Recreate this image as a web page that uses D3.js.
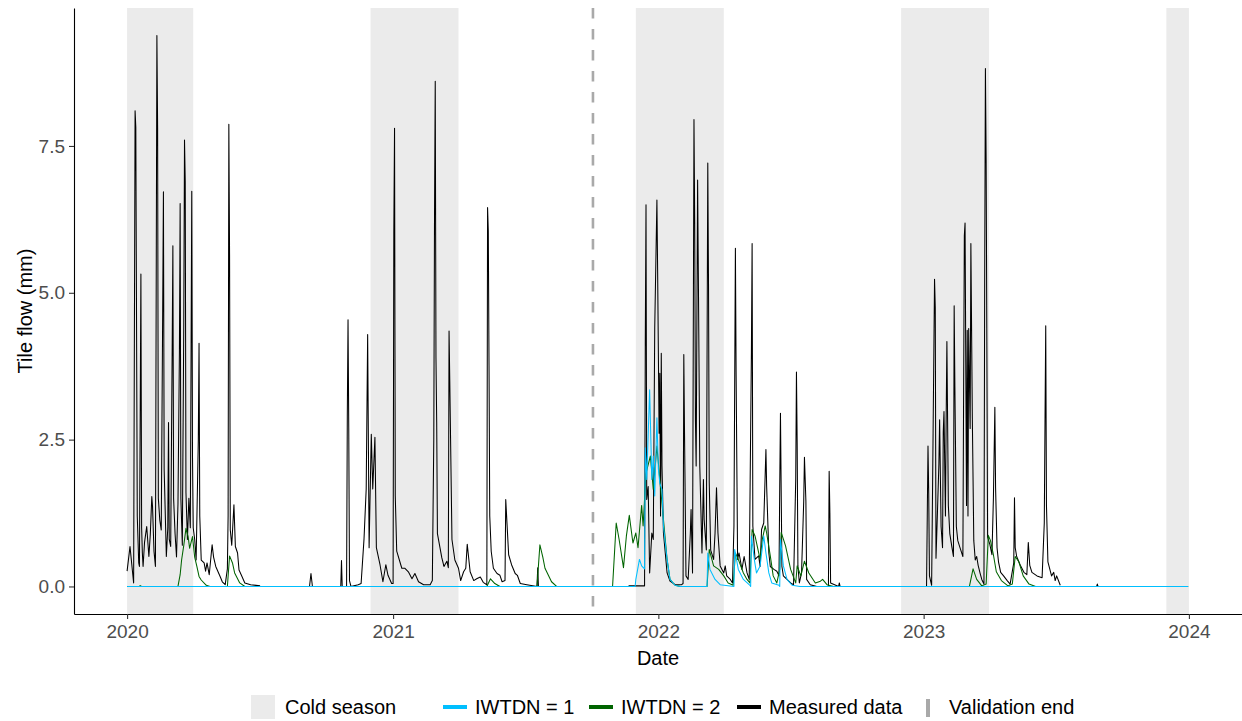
<!DOCTYPE html>
<html>
<head>
<meta charset="utf-8">
<script src="https://cdn.jsdelivr.net/npm/d3@7"></script>
<style>
  body { margin: 0; background: #fff; }
  text { font-family: "Liberation Sans", Arial, sans-serif; }
</style>
</head>
<body>
<svg id="chart" width="1242" height="721"></svg>
<script>
// Daily tile flow (mm): [date, value]; null marks a break in the record
const measuredFlow = [
  ["2020-01-01",0.26],["2020-01-05",0.68],["2020-01-10",0.06],["2020-01-12",8.1],["2020-01-13",7.82],
  ["2020-01-15",1.2],["2020-01-17",0.4],["2020-01-18",0.34],["2020-01-20",5.32],["2020-01-21",1.0],
  ["2020-01-22",0.57],["2020-01-23",0.34],["2020-01-25",0.75],["2020-01-28",1.02],["2020-01-31",0.51],
  ["2020-02-02",0.9],["2020-02-04",1.53],["2020-02-05",1.36],["2020-02-07",0.6],["2020-02-09",0.34],
  ["2020-02-11",9.38],["2020-02-12",7.82],["2020-02-13",1.5],["2020-02-15",1.13],["2020-02-17",0.96],
  ["2020-02-19",4.74],["2020-02-20",6.72],["2020-02-21",2.0],["2020-02-24",0.51],["2020-02-26",1.0],
  ["2020-02-27",2.79],["2020-02-28",0.8],["2020-03-01",0.68],["2020-03-03",3.98],["2020-03-04",5.8],
  ["2020-03-05",1.5],["2020-03-07",0.9],["2020-03-09",0.5],["2020-03-11",1.4],["2020-03-13",4.0],
  ["2020-03-14",6.52],["2020-03-15",1.5],["2020-03-17",0.7],["2020-03-19",4.5],["2020-03-20",7.6],
  ["2020-03-21",6.9],["2020-03-22",1.6],["2020-03-24",0.8],["2020-03-26",1.5],["2020-03-28",1.0],
  ["2020-03-30",6.73],["2020-03-31",2.2],["2020-04-01",1.0],["2020-04-03",0.8],["2020-04-05",0.45],
  ["2020-04-08",2.5],["2020-04-09",4.14],["2020-04-10",1.2],["2020-04-12",0.45],["2020-04-16",0.4],
  ["2020-04-18",0.26],["2020-04-20",0.4],["2020-04-23",0.2],["2020-04-27",0.71],["2020-04-29",0.5],
  ["2020-05-02",0.34],["2020-05-08",0.17],["2020-05-11",0.08],["2020-05-15",0.03],["2020-05-18",0.3],
  ["2020-05-19",1.2],["2020-05-20",7.87],["2020-05-21",5.65],["2020-05-22",0.96],["2020-05-24",0.7],
  ["2020-05-27",1.39],["2020-05-29",0.68],["2020-06-01",0.57],["2020-06-03",0.28],["2020-06-06",0.2],
  ["2020-06-11",0.06],["2020-06-19",0.03],["2020-07-02",0.01],["2020-07-03",null],["2020-09-08",0],["2020-09-10",0.22],
  ["2020-09-12",0],["2020-09-13",null],["2020-10-21",0],["2020-10-22",0.44],["2020-10-23",0],["2020-10-29",0],
  ["2020-10-30",2.9],["2020-10-31",4.54],["2020-11-01",2.7],["2020-11-02",0.1],["2020-11-04",0],
  ["2020-11-14",0.03],["2020-11-18",0.05],["2020-11-22",0.81],["2020-11-25",1.66],["2020-11-27",4.29],
  ["2020-11-29",0.66],["2020-12-02",2.59],["2020-12-04",1.66],["2020-12-07",2.54],["2020-12-09",0.66],
  ["2020-12-14",0.37],["2020-12-18",0.08],["2020-12-22",0.37],["2020-12-25",0.19],["2020-12-30",0.05],
  ["2021-01-01",0.05],["2021-01-02",6.02],["2021-01-03",7.8],["2021-01-04",1.54],["2021-01-06",0.6],
  ["2021-01-13",0.31],["2021-01-17",0.31],["2021-01-22",0.25],["2021-01-27",0.13],["2021-01-31",0.22],
  ["2021-02-05",0.08],["2021-02-12",0.03],["2021-02-21",0.03],["2021-02-24",0.1],["2021-02-26",2.5],
  ["2021-02-27",6.3],["2021-02-28",8.6],["2021-03-01",3.9],["2021-03-02",2.8],["2021-03-03",0.9],
  ["2021-03-09",0.49],["2021-03-12",0.34],["2021-03-16",0.43],["2021-03-18",0.32],["2021-03-19",4.35],
  ["2021-03-20",3.5],["2021-03-23",0.8],["2021-03-27",0.45],["2021-04-01",0.31],["2021-04-04",0.1],
  ["2021-04-08",0.25],["2021-04-11",0.31],["2021-04-13",0.72],["2021-04-17",0.25],["2021-04-22",0.1],
  ["2021-04-26",0.13],["2021-05-01",0.16],["2021-05-05",0.07],["2021-05-10",0.03],["2021-05-11",6.45],
  ["2021-05-12",6.05],["2021-05-13",3.76],["2021-05-14",1.2],["2021-05-16",0.6],["2021-05-19",0.31],
  ["2021-05-24",0.22],["2021-05-28",0.19],["2021-05-31",0.08],["2021-06-04",0.1],["2021-06-05",1.48],
  ["2021-06-09",0.54],["2021-06-13",0.37],["2021-06-18",0.22],["2021-06-21",0.19],["2021-06-25",0.05],
  ["2021-07-04",0.03],["2021-07-18",0],["2021-07-19",0.32],["2021-07-20",0],["2021-07-21",null],["2021-11-21",0.01],
  ["2021-12-13",0.01],["2021-12-14",4.12],["2021-12-15",6.5],["2021-12-16",1.48],["2021-12-18",1.7],
  ["2021-12-20",0.23],["2021-12-23",0.91],["2021-12-25",0.8],["2021-12-27",4.4],["2021-12-30",6.58],
  ["2021-12-31",5.36],["2022-01-02",2.61],["2022-01-03",3.63],["2022-01-04",1.2],["2022-01-05",3.97],
  ["2022-01-06",2.05],["2022-01-08",0.91],["2022-01-13",0.23],["2022-01-17",0.09],["2022-01-24",0.03],
  ["2022-02-02",0.03],["2022-02-04",0.05],["2022-02-05",3.95],["2022-02-06",2.61],["2022-02-08",0.18],
  ["2022-02-11",0.12],["2022-02-14",0.91],["2022-02-15",1.31],["2022-02-17",0.23],["2022-02-19",7.95],
  ["2022-02-20",6.21],["2022-02-21",2.84],["2022-02-22",2.05],["2022-02-24",6.92],["2022-02-25",5.33],
  ["2022-02-27",2.05],["2022-03-02",0.57],["2022-03-04",1.82],["2022-03-05",1.14],["2022-03-08",0.62],
  ["2022-03-10",7.21],["2022-03-11",5.16],["2022-03-12",1.77],["2022-03-14",0.62],["2022-03-18",0.46],
  ["2022-03-20",0.91],["2022-03-22",1.68],["2022-03-24",0.91],["2022-03-27",0.35],["2022-04-01",0.23],
  ["2022-04-03",0.35],["2022-04-05",0.18],["2022-04-10",0.12],["2022-04-13",0.06],["2022-04-15",1.03],
  ["2022-04-17",5.76],["2022-04-18",3.59],["2022-04-20",0.46],["2022-04-22",0.57],["2022-04-26",0.29],
  ["2022-04-29",0.51],["2022-05-03",0.23],["2022-05-06",0.12],["2022-05-09",3.97],["2022-05-10",5.84],
  ["2022-05-11",1.03],["2022-05-14",0.46],["2022-05-19",0.52],["2022-05-21",0.34],["2022-05-23",0.97],
  ["2022-05-26",1.08],["2022-05-29",2.33],["2022-05-30",1.7],["2022-06-02",0.57],["2022-06-04",0.34],
  ["2022-06-09",0.29],["2022-06-13",0.26],["2022-06-16",0.18],["2022-06-17",1.7],["2022-06-18",2.95],
  ["2022-06-20",0.34],["2022-06-22",0.18],["2022-06-27",0.12],["2022-07-02",0.06],["2022-07-06",0.03],
  ["2022-07-09",1.82],["2022-07-10",3.65],["2022-07-11",2.44],["2022-07-12",0.35],["2022-07-14",0.06],
  ["2022-07-17",0.23],["2022-07-20",1.45],["2022-07-21",2.2],["2022-07-23",1.45],["2022-07-24",0.12],
  ["2022-07-29",0.03],["2022-08-07",0],["2022-08-23",0],["2022-08-24",1.96],["2022-08-25",1.25],
  ["2022-08-26",0.06],["2022-09-06",0],["2022-09-07",0.06],["2022-09-08",0],["2023-01-05",0],
  ["2023-01-06",1.2],["2023-01-07",2.39],["2023-01-08",1.59],["2023-01-09",0.18],["2023-01-12",0.02],
  ["2023-01-14",2.6],["2023-01-16",5.23],["2023-01-17",4.75],["2023-01-18",0.48],["2023-01-20",1.26],
  ["2023-01-22",2.09],["2023-01-23",2.84],["2023-01-25",1.02],["2023-01-27",0.66],["2023-01-28",2.63],
  ["2023-01-29",2.98],["2023-01-31",1.2],["2023-02-01",2.86],["2023-02-02",4.17],["2023-02-04",1.38],
  ["2023-02-06",0.9],["2023-02-09",0.66],["2023-02-11",0.51],["2023-02-12",4.78],["2023-02-13",3.4],
  ["2023-02-15",1.02],["2023-02-17",0.78],["2023-02-20",0.66],["2023-02-24",0.51],["2023-02-26",5.97],
  ["2023-02-27",6.19],["2023-03-01",1.38],["2023-03-02",4.36],["2023-03-03",1.2],["2023-03-04",4.39],
  ["2023-03-06",2.69],["2023-03-07",5.84],["2023-03-09",2.87],["2023-03-11",0.78],["2023-03-13",0.45],
  ["2023-03-15",0.51],["2023-03-17",0.36],["2023-03-20",0.21],["2023-03-22",0.12],["2023-03-25",0.04],
  ["2023-03-26",5.23],["2023-03-27",8.82],["2023-03-28",7.26],["2023-03-29",4.1],["2023-03-30",0.84],
  ["2023-04-02",0.72],["2023-04-05",0.54],["2023-04-07",1.5],["2023-04-09",3.05],["2023-04-10",1.68],
  ["2023-04-12",0.66],["2023-04-14",0.42],["2023-04-17",0.24],["2023-04-21",0.18],["2023-04-26",0.1],
  ["2023-04-30",0.04],["2023-05-05",0.4],["2023-05-06",1.51],["2023-05-07",0.66],["2023-05-09",0.51],
  ["2023-05-14",0.36],["2023-05-19",0.24],["2023-05-23",0.2],["2023-05-25",0.75],["2023-05-27",0.36],
  ["2023-05-30",0.24],["2023-06-06",0.18],["2023-06-13",0.15],["2023-06-16",1.08],["2023-06-17",2.81],
  ["2023-06-18",4.44],["2023-06-19",1.38],["2023-06-21",0.42],["2023-06-26",0.18],["2023-06-29",0.24],
  ["2023-07-01",0.1],["2023-07-03",0.18],["2023-07-08",0.02],["2023-07-09",null],["2023-08-27",0],["2023-08-28",0.04],
  ["2023-08-29",0]
];

const iwtdn1Flow = [
  ["2020-01-01",0],["2021-11-30",0],["2021-12-01",0.12],["2021-12-06",0.46],["2021-12-09",0.35],
  ["2021-12-13",0.3],["2021-12-14",2.36],["2021-12-16",1.82],["2021-12-20",3.35],["2021-12-23",1.82],
  ["2021-12-25",2.22],["2021-12-27",1.54],["2021-12-30",2.87],["2022-01-01",2.0],["2022-01-03",1.76],
  ["2022-01-06",1.65],["2022-01-08",1.03],["2022-01-13",0.46],["2022-01-17",0.12],["2022-01-24",0.02],
  ["2022-01-31",0],["2022-03-09",0],["2022-03-10",0.57],["2022-03-13",0.29],["2022-03-20",0.12],
  ["2022-03-27",0.03],["2022-04-15",0],["2022-04-16",0.63],["2022-04-21",0.29],["2022-04-28",0.12],
  ["2022-05-07",0.02],["2022-05-08",0],["2022-05-09",0.86],["2022-05-13",0.46],["2022-05-16",0.23],
  ["2022-05-21",0.35],["2022-05-26",0.86],["2022-05-29",0.57],["2022-06-02",0.23],["2022-06-06",0.06],
  ["2022-06-16",0.02],["2022-06-17",0],["2022-06-18",0.8],["2022-06-22",0.35],["2022-06-27",0.12],
  ["2022-07-04",0.02],["2022-07-15",0],["2023-12-31",0]
];

const iwtdn2Flow = [
  ["2020-01-01",0],["2020-01-18",0],["2020-01-19",0.015],["2020-01-21",0],["2020-03-11",0],
  ["2020-03-14",0.2],["2020-03-16",0.45],["2020-03-19",0.7],["2020-03-22",0.99],["2020-03-25",0.85],
  ["2020-03-27",0.65],["2020-03-31",0.85],["2020-04-03",0.5],["2020-04-06",0.34],["2020-04-09",0.17],
  ["2020-04-12",0.11],["2020-04-19",0.02],["2020-04-24",0],["2020-05-18",0],["2020-05-21",0.52],
  ["2020-05-25",0.4],["2020-05-28",0.23],["2020-06-04",0.06],["2020-06-11",0],["2021-05-10",0],
  ["2021-05-15",0.13],["2021-05-21",0.05],["2021-05-28",0],["2021-07-18",0],["2021-07-22",0.71],
  ["2021-07-26",0.5],["2021-07-29",0.31],["2021-08-07",0.08],["2021-08-14",0],["2021-10-30",0],
  ["2021-11-04",1.08],["2021-11-08",0.8],["2021-11-14",0.32],["2021-11-18",0.86],["2021-11-22",1.21],
  ["2021-11-27",0.74],["2021-12-01",0.91],["2021-12-04",0.66],["2021-12-09",1.38],["2021-12-11",1.03],
  ["2021-12-15",1.93],["2021-12-21",2.22],["2021-12-25",1.65],["2021-12-30",2.39],["2022-01-03",1.82],
  ["2022-01-08",1.14],["2022-01-13",0.46],["2022-01-17",0.12],["2022-01-24",0.02],["2022-01-31",0],
  ["2022-03-09",0],["2022-03-12",0.63],["2022-03-18",0.35],["2022-03-25",0.29],["2022-04-01",0.18],
  ["2022-04-07",0.06],["2022-04-14",0.02],["2022-04-17",0.57],["2022-04-21",0.46],["2022-04-28",0.23],
  ["2022-05-03",0.12],["2022-05-07",0.06],["2022-05-10",0.97],["2022-05-14",0.86],["2022-05-21",0.46],
  ["2022-05-24",0.8],["2022-05-28",1.03],["2022-05-30",0.91],["2022-06-04",0.52],["2022-06-08",0.18],
  ["2022-06-13",0.06],["2022-06-17",0.29],["2022-06-19",0.92],["2022-06-25",0.69],["2022-07-02",0.29],
  ["2022-07-09",0.06],["2022-07-11",0.35],["2022-07-16",0.18],["2022-07-21",0.43],["2022-07-27",0.23],
  ["2022-08-05",0.06],["2022-08-12",0.09],["2022-08-15",0.12],["2022-08-21",0.03],["2022-08-30",0],
  ["2023-03-05",0],["2023-03-10",0.3],["2023-03-15",0.12],["2023-03-22",0.01],["2023-03-28",0.04],
  ["2023-03-31",0.87],["2023-04-03",0.78],["2023-04-07",0.54],["2023-04-11",0.25],["2023-04-18",0.1],
  ["2023-04-27",0.01],["2023-05-03",0.04],["2023-05-07",0.51],["2023-05-12",0.42],["2023-05-18",0.18],
  ["2023-05-26",0.04],["2023-06-04",0],["2023-12-31",0]
];

// Cold season periods: [start, end]
const coldSeasons = [
  ["2020-01-01","2020-04-01"],["2020-12-01","2021-04-01"],["2021-12-01","2022-04-01"],
  ["2022-12-01","2023-04-01"],["2023-12-01","2024-01-01"]
];
const validationEnd = "2021-10-03";
const xTickDates = ["2020-01-01","2021-01-01","2022-01-01","2023-01-01","2024-01-01"];
const yTickValues = [0, 2.5, 5, 7.5];

const seriesNames = ["IWTDN = 1", "IWTDN = 2", "Measured data"];
const seriesColors = ["#00BFFF", "#006400", "#000000"];

const parseDate = d3.utcParse("%Y-%m-%d");
const toPoints = arr => arr.map(([d, v]) => ({ date: parseDate(d), value: v }));

const measured = toPoints(measuredFlow);
const sim1 = toPoints(iwtdn1Flow);
const sim2 = toPoints(iwtdn2Flow);
const seasons = coldSeasons.map(([a, b]) => [parseDate(a), parseDate(b)]);

const svg = d3.select("#chart");
const panel = { left: 74, right: 1242, top: 8, bottom: 614 };

// x extent: first season start to last season end, padded 5% each side
const xStart = seasons[0][0], xEnd = seasons[seasons.length - 1][1];
const xPad = (xEnd - xStart) * 0.05;
const x = d3.scaleUtc()
  .domain([new Date(+xStart - xPad), new Date(+xEnd + xPad)])
  .range([panel.left, panel.right]);

const allValues = measured.concat(sim1, sim2).map(d => d.value);
const yMax = d3.max(allValues), yMin = 0;
const yPad = (yMax - yMin) * 0.05;
const y = d3.scaleLinear()
  .domain([yMin - yPad, yMax + yPad])
  .range([panel.bottom, panel.top]);

svg.append("defs").append("clipPath").attr("id", "clip")
  .append("rect")
  .attr("x", panel.left).attr("y", panel.top)
  .attr("width", panel.right - panel.left).attr("height", panel.bottom - panel.top);

const plot = svg.append("g").attr("clip-path", "url(#clip)");

// cold season shading
plot.selectAll("rect.season").data(seasons).join("rect")
  .attr("class", "season")
  .attr("x", d => x(d[0]))
  .attr("width", d => x(d[1]) - x(d[0]))
  .attr("y", panel.top)
  .attr("height", panel.bottom - panel.top)
  .attr("fill", "#EBEBEB");

// validation end marker
plot.append("line")
  .attr("x1", x(parseDate(validationEnd))).attr("x2", x(parseDate(validationEnd)))
  .attr("y1", panel.top).attr("y2", panel.bottom)
  .attr("stroke", "#A9A9A9").attr("stroke-width", 2.6)
  .attr("stroke-dasharray", "10.5,10.5");

const line = d3.line()
  .defined(d => d.value != null)
  .x(d => x(d.date))
  .y(d => y(d.value));

[[measured, seriesColors[2]], [sim2, seriesColors[1]], [sim1, seriesColors[0]]].forEach(([data, color]) => {
  plot.append("path")
    .datum(data)
    .attr("d", line)
    .attr("fill", "none")
    .attr("stroke", color)
    .attr("stroke-width", 1.05)
    .attr("stroke-linejoin", "round");
});

// axes
const xAxis = svg.append("g")
  .attr("transform", `translate(0,${panel.bottom})`)
  .call(d3.axisBottom(x)
    .tickValues(xTickDates.map(parseDate))
    .tickFormat(d3.utcFormat("%Y"))
    .tickSize(5).tickPadding(6).tickSizeOuter(0));

const yAxis = svg.append("g")
  .attr("transform", `translate(${panel.left},0)`)
  .call(d3.axisLeft(y)
    .tickValues(yTickValues)
    .tickFormat(d3.format(".1f"))
    .tickSize(5).tickPadding(4).tickSizeOuter(0));

[xAxis, yAxis].forEach(g => {
  g.select(".domain").attr("stroke", "#000").attr("stroke-width", 1.1);
  g.selectAll(".tick line").attr("stroke", "#333").attr("stroke-width", 1.1);
  g.selectAll(".tick text")
    .attr("fill", "#4D4D4D")
    .style("font-size", "19px")
    .style("font-family", "'Liberation Sans', Arial, sans-serif");
});

// axis titles
svg.append("text")
  .attr("x", (panel.left + panel.right) / 2).attr("y", 665)
  .attr("text-anchor", "middle")
  .style("font-size", "20px").attr("fill", "#000")
  .text("Date");

svg.append("text")
  .attr("transform", `translate(32,${(panel.top + panel.bottom) / 2}) rotate(-90)`)
  .attr("text-anchor", "middle")
  .style("font-size", "20px").attr("fill", "#000")
  .text("Tile flow (mm)");

// legend
const legend = svg.append("g");
const ly = 707;
legend.append("rect").attr("x", 251).attr("y", ly - 12).attr("width", 24).attr("height", 24).attr("fill", "#EBEBEB");
legend.append("text").attr("x", 285).attr("y", ly + 7).style("font-size", "20px").text("Cold season");

const lineKeys = [443, 589, 737];
seriesNames.forEach((name, i) => {
  legend.append("line")
    .attr("x1", lineKeys[i]).attr("x2", lineKeys[i] + 24)
    .attr("y1", ly).attr("y2", ly)
    .attr("stroke", seriesColors[i]).attr("stroke-width", 4);
  legend.append("text").attr("x", lineKeys[i] + 32).attr("y", ly + 7)
    .style("font-size", "20px").text(name);
});

legend.append("rect").attr("x", 926).attr("y", ly - 8).attr("width", 4).attr("height", 18).attr("fill", "#A9A9A9");
legend.append("text").attr("x", 949).attr("y", ly + 7).style("font-size", "20px").text("Validation end");
</script>
</body>
</html>
